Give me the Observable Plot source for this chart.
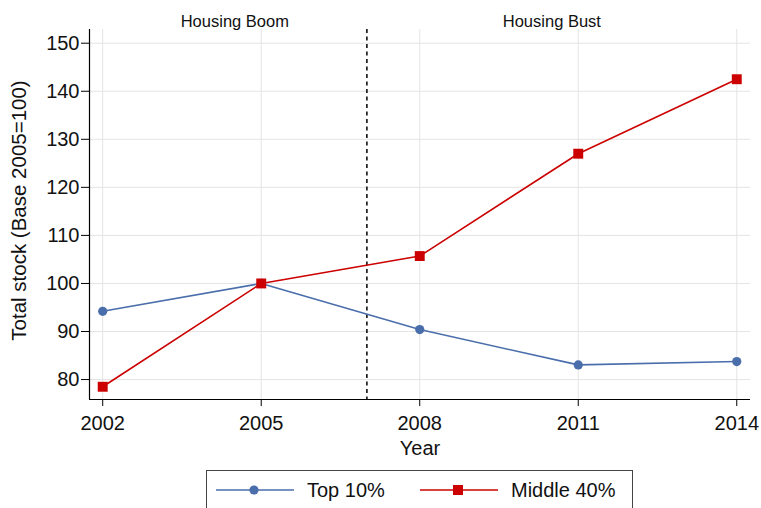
<!DOCTYPE html>
<html><head><meta charset="utf-8">
<script src="https://cdn.jsdelivr.net/npm/d3@7"></script>
<script src="https://cdn.jsdelivr.net/npm/@observablehq/plot@0.6"></script>
<style>
body{margin:0;background:#fff;font-family:"Liberation Sans",Arial,sans-serif;color:#111;}
#wrap{position:relative;width:761px;height:508px;overflow:hidden;background:#fff;}
#chart{position:absolute;left:0;top:0;}
#legend{position:absolute;left:206px;top:470px;width:427px;height:46px;border:1px solid #444;box-sizing:border-box;}
.item{position:absolute;top:0;height:38px;display:flex;align-items:center;font-size:20px;}
.item svg{display:block;}
</style></head><body><div id="wrap"><div id="chart"></div><div id="legend"></div></div>
<script>
const years=[2002,2005,2008,2011,2014];
const top10=[94.2,100,90.4,83.05,83.75];
const middle40=[78.5,100,105.7,127.0,142.5];
const seriesNames=["Top 10%","Middle 40%"];
const seriesColors=["#4a6eab","#cc0000"];
const yTicks=[80,90,100,110,120,130,140,150];
const xDomain=[2001.75,2014.26];
const yDomain=[75.85,152.85];
const breakYear=2007;
const periodX=[2004.5,2010.5];
const periodLabels=["Housing Boom","Housing Bust"];
const xTitle="Year";
const yTitle="Total stock (Base 2005=100)";

const rowsTop=years.map((x,i)=>({x,y:top10[i],series:seriesNames[0]}));
const rowsMid=years.map((x,i)=>({x,y:middle40[i],series:seriesNames[1]}));
const periods=periodX.map((x,i)=>({x,label:periodLabels[i]}));

const chart=Plot.plot({
  width:761,height:462,
  marginLeft:89,marginRight:11,marginTop:29,marginBottom:63,
  style:{fontFamily:"Liberation Sans, Arial, sans-serif",color:"#111",background:"#fff"},
  x:{domain:xDomain},
  y:{domain:yDomain},
  color:{domain:seriesNames,range:seriesColors},
  marks:[
    Plot.gridY(yTicks,{stroke:"#e4e4e4",strokeOpacity:1}),
    Plot.gridX(years,{stroke:"#e4e4e4",strokeOpacity:1}),
    Plot.ruleX([breakYear],{stroke:"#000",strokeWidth:1.5,strokeDasharray:"4,3.5"}),
    Plot.line(rowsTop,{x:"x",y:"y",stroke:"series",strokeWidth:1.6}),
    Plot.line(rowsMid,{x:"x",y:"y",stroke:"series",strokeWidth:1.6}),
    Plot.dot(rowsTop,{x:"x",y:"y",fill:"series",r:4.6,symbol:"circle"}),
    Plot.dot(rowsMid,{x:"x",y:"y",fill:"series",r:5.6,symbol:"square"}),
    Plot.ruleX([xDomain[0]],{stroke:"#000",strokeWidth:1.2}),
    Plot.ruleY([yDomain[0]],{stroke:"#000",strokeWidth:1.2}),
    Plot.axisX({ticks:years,tickFormat:d=>String(d),tickSize:7,tickPadding:9,fontSize:20,label:null,stroke:"#000"}),
    Plot.axisY({ticks:yTicks,tickSize:8,tickPadding:2,fontSize:20,label:null,stroke:"#000"}),
    Plot.text(periods,{x:"x",text:"label",frameAnchor:"top",dy:-14,fontSize:16.5,fill:"#111"}),
    Plot.text([xTitle],{frameAnchor:"bottom",dy:55,fontSize:20,fill:"#111"}),
    Plot.text([yTitle],{frameAnchor:"left",textAnchor:"middle",dx:-70,dy:-4,rotate:-90,fontSize:20.5,fill:"#111"})
  ]
});
document.getElementById("chart").appendChild(chart);

const legend=document.getElementById("legend");
const legendX=[[8,100],[212,304]];
seriesNames.forEach((name,i)=>{
  const it=document.createElement("div");
  it.className="item";
  it.style.left=legendX[i][0]+"px";
  const c=seriesColors[i];
  const mark=i===0?`<circle cx="39" cy="10" r="4.6" fill="${c}"/>`:`<rect x="34" y="5" width="10" height="10" fill="${c}"/>`;
  it.innerHTML=`<svg width="80" height="20"><line x1="1" x2="79" y1="10" y2="10" stroke="${c}" stroke-width="1.6"/>${mark}</svg><span style="margin-left:${legendX[i][1]-legendX[i][0]-80}px">${name}</span>`;
  legend.appendChild(it);
});
</script></body></html>
